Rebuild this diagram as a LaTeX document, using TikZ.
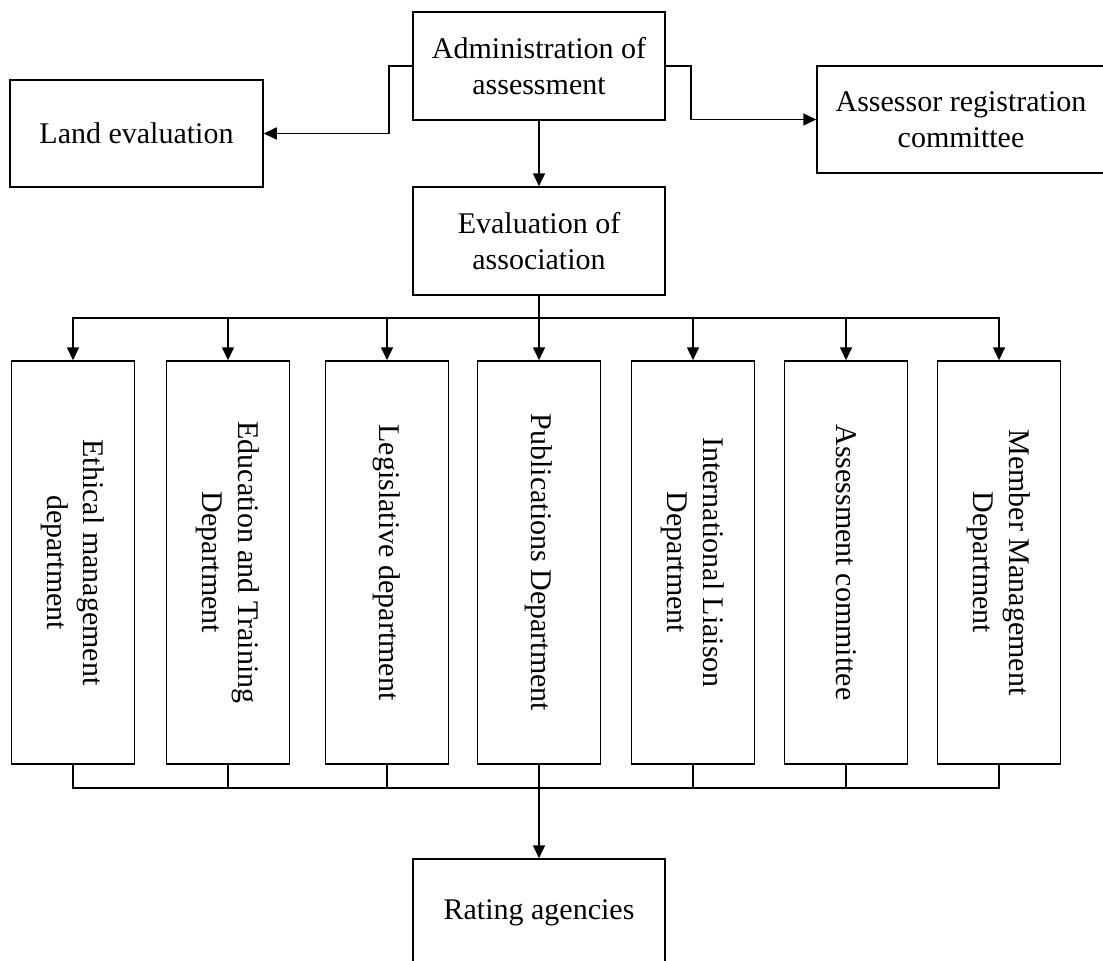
\documentclass[tikz,border=0pt]{standalone}
\usepackage{fontspec}
\setmainfont{Liberation Serif}
\usetikzlibrary{arrows.meta}
\begin{document}
\begin{tikzpicture}[x=1pt,y=-1pt,
  box/.style={draw=black,line width=1.5pt,fill=white,inner sep=0pt,align=center,
    font=\fontsize{30}{36}\selectfont},
  dept/.style={draw=black,line width=1.5pt,fill=white,inner sep=0pt,
    minimum width=123pt,minimum height=403pt},
  vtext/.style={rotate=-90,inner sep=0pt,align=center,font=\fontsize{30}{36}\selectfont},
  conn/.style={line width=1.6pt},
  arr/.style={line width=1.6pt,-{Triangle[length=13pt,width=12pt]}}]
\clip (0,0) rectangle (1103,961);
\fill[white] (0,0) rectangle (1103,961);

% top level
\node[box,minimum width=252pt,minimum height=108pt] (admin) at (539,66) {Administration of\\assessment};
\node[box,minimum width=253pt,minimum height=107pt] (land) at (136.5,133.5) {Land evaluation};
\node[box,minimum width=288pt,minimum height=107pt] (assessor) at (961,119.5) {Assessor registration\\committee};
\node[box,minimum width=252pt,minimum height=108pt] (eval) at (539,241) {Evaluation of\\association};
\node[box,minimum width=252pt,minimum height=108pt] (rating) at (539,913) {Rating agencies};

% departments
\node[dept] (d1) at (73,562.5) {};
\node[dept] (d2) at (228,562.5) {};
\node[dept] (d3) at (387,562.5) {};
\node[dept] (d4) at (539,562.5) {};
\node[dept] (d5) at (693,562.5) {};
\node[dept] (d6) at (846,562.5) {};
\node[dept] (d7) at (999,562.5) {};
\node[vtext] (t1) at (d1.center) {Ethical management\\department};
\node[vtext] (t2) at (d2.center) {Education and Training\\Department};
\node[vtext] (t3) at (d3.center) {Legislative department};
\node[vtext] (t4) at (d4.center) {Publications Department};
\node[vtext] (t5) at (d5.center) {International Liaison\\Department};
\node[vtext] (t6) at (d6.center) {Assessment committee};
\node[vtext] (t7) at (d7.center) {Member Management\\Department};

% connectors from admin
\draw[arr] (admin.west) -- ++(-23,0) |- (land.east);
\draw[arr] (admin.east) -- ++(25,0) |- (assessor.west);
\draw[arr] (admin.south) -- (eval.north);

% bus to departments
\coordinate (bus) at (539,318);
\foreach \d in {d1,d2,d3,d4,d5,d6,d7}{
  \draw[arr] (eval.south) -- (bus) -| (\d.north);
}

% bus from departments
\coordinate (bus2) at (539,788);
\foreach \d in {d1,d2,d3,d4,d5,d6,d7}{
  \draw[conn] (\d.south) |- (bus2);
}
\draw[arr] (bus2) -- (rating.north);
\end{tikzpicture}
\end{document}
